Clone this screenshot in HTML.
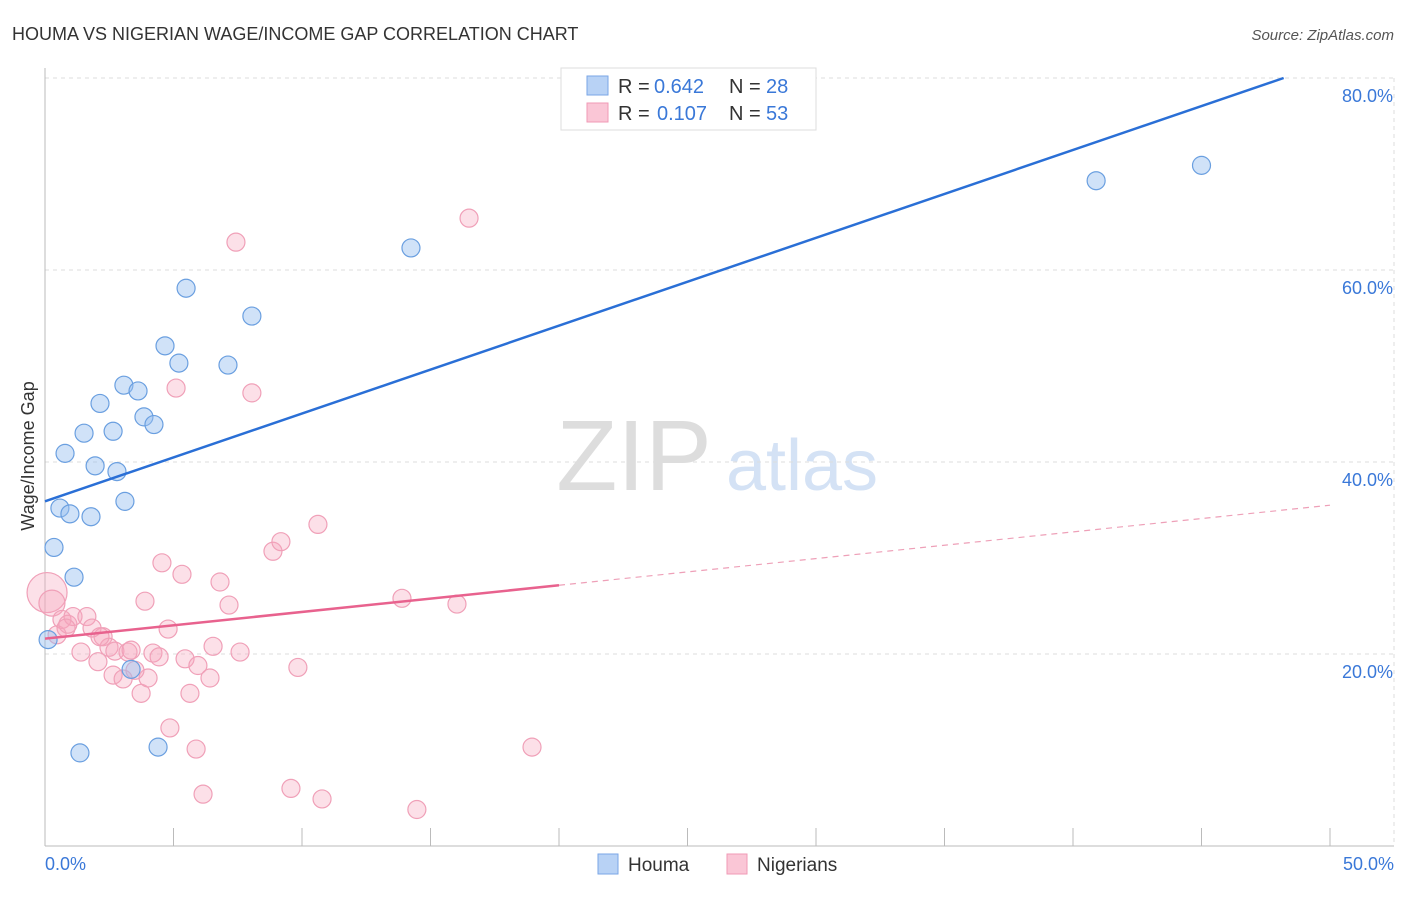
<!DOCTYPE html>
<html><head><meta charset="utf-8"><style>
body{margin:0;background:#fff;font-family:"Liberation Sans",sans-serif;}
svg text{font-family:"Liberation Sans",sans-serif;}
</style></head><body>
<svg id="chart" width="1406" height="892" xmlns="http://www.w3.org/2000/svg">
<text x="12" y="40" font-size="18" fill="#333">HOUMA VS NIGERIAN WAGE/INCOME GAP CORRELATION CHART</text>
<text x="1394" y="40" font-size="15" fill="#555" font-style="italic" text-anchor="end">Source: ZipAtlas.com</text>
<text x="634" y="490" font-size="100" fill="#ddd" font-family="Liberation Serif" text-anchor="middle">ZIP</text>
<text x="802" y="490" font-size="72" fill="#d4e2f5" text-anchor="middle">atlas</text>
<text transform="translate(34,456) rotate(-90)" font-size="18" fill="#333" text-anchor="middle">Wage/Income Gap</text>
<g id="grid"></g><g id="marks"></g>
<g>
<rect x="561" y="68" width="255" height="62" fill="#fff" stroke="#ddd"/>
<rect x="587" y="76" width="21" height="19" fill="#b8d2f5" stroke="#7aa6e6"/>
<rect x="587" y="103" width="21" height="19" fill="#fac6d6" stroke="#f09ab6"/>
<text x="618" y="93" font-size="20" fill="#333">R =</text>
<text x="654" y="93" font-size="20" fill="#3a78d8">0.642</text>
<text x="729" y="93" font-size="20" fill="#333">N =</text>
<text x="766" y="93" font-size="20" fill="#3a78d8">28</text>
<text x="618" y="120" font-size="20" fill="#333">R =</text>
<text x="657" y="120" font-size="20" fill="#3a78d8">0.107</text>
<text x="729" y="120" font-size="20" fill="#333">N =</text>
<text x="766" y="120" font-size="20" fill="#3a78d8">53</text>
</g>
<g>
<rect x="598" y="854" width="20" height="20" fill="#b8d2f5" stroke="#7aa6e6"/>
<text x="628" y="871" font-size="19" fill="#333">Houma</text>
<rect x="727" y="854" width="20" height="20" fill="#fac6d6" stroke="#f09ab6"/>
<text x="757" y="871" font-size="19" fill="#333">Nigerians</text>
</g>
</svg>
<script>
const yTicks=[20,40,60,80];
const yTickLabels=["20.0%","40.0%","60.0%","80.0%"];
const xTicks=[0,5,10,15,20,25,30,35,40,45,50];
const houmaX=[0.12,0.35,0.58,0.97,0.78,1.13,1.52,1.79,1.95,2.14,2.65,2.80,3.07,3.11,3.62,3.85,4.24,4.67,5.21,5.49,7.12,8.05,14.24,3.35,1.36,4.40,40.9,45.0];
const houmaY=[21.5,31.1,35.2,34.6,40.9,28.0,43.0,34.3,39.6,46.1,43.2,39.0,48.0,35.9,47.4,44.7,43.9,52.1,50.3,58.1,50.1,55.2,62.3,18.4,9.7,10.3,69.3,70.9];
const nigX=[0.08,0.27,0.47,0.66,0.89,1.09,1.63,1.83,2.26,2.49,2.72,3.23,3.35,1.40,2.06,2.65,3.04,3.74,4.01,3.50,4.20,4.44,4.86,5.45,5.64,5.95,6.42,5.88,6.15,6.54,7.59,7.16,6.81,8.87,9.18,10.62,9.84,9.57,10.78,14.47,13.89,16.03,18.95,7.43,16.50,8.05,5.10,4.55,5.33,3.89,4.79,0.82,2.14];
const nigY=[26.4,25.3,22.0,23.6,23.1,23.9,23.9,22.7,21.8,20.7,20.3,20.2,20.4,20.2,19.2,17.8,17.4,15.9,17.5,18.3,20.1,19.7,12.3,19.5,15.9,18.8,17.5,10.1,5.4,20.8,20.2,25.1,27.5,30.7,31.7,33.5,18.6,6.0,4.9,3.8,25.8,25.2,10.3,62.9,65.4,47.2,47.7,29.5,28.3,25.5,22.6,22.7,21.8];
const houmaLine=[35.9,0.915];
const nigLine=[21.6,0.278];
const NS="http://www.w3.org/2000/svg";
const xs=v=>45+v*25.7, ys=v=>846-v*9.6;
function mk(t,a,p){const e=document.createElementNS(NS,t);for(const k in a)e.setAttribute(k,a[k]);p.appendChild(e);return e;}
const grid=document.getElementById('grid'),marks=document.getElementById('marks');
yTicks.forEach((t,i)=>{
 const l=mk('line',{x1:45,x2:1394,y1:ys(t),y2:ys(t),stroke:'#ddd','stroke-dasharray':'4,4'},grid);
 
 
 const tx=mk('text',{x:1393,y:ys(t)+24,'font-size':18,fill:'#3a78d8','text-anchor':'end'},grid);
 tx.textContent=yTickLabels[i];
 
 
});
mk('line',{x1:1394,x2:1394,y1:ys(80),y2:846,stroke:'#ddd','stroke-dasharray':'4,4'},grid);
const ax=mk('line',{x1:45,x2:1394,y1:846,y2:846,stroke:'#bbb'},grid);


const ay=mk('line',{x1:45,x2:45,y1:68,y2:846,stroke:'#bbb'},grid);


xTicks.forEach(t=>{const l=mk('line',{x1:xs(t),x2:xs(t),y1:828,y2:846,stroke:'#bbb'},grid);
 
 });
const x0=mk('text',{x:45,y:870,'font-size':18,fill:'#3a78d8'},grid);x0.textContent='0.0%';


const x1=mk('text',{x:1394,y:870,'font-size':18,fill:'#3a78d8','text-anchor':'end'},grid);x1.textContent='50.0%';


nigX.forEach((x,i)=>{const r=i==0?20:(i==1?13:9);
 const c=mk('circle',{cx:xs(x),cy:ys(nigY[i]),r:r,fill:'rgba(245,165,190,0.35)',stroke:'#f0a0b8','stroke-width':1.2},marks);
 
 });
houmaX.forEach((x,i)=>{
 const c=mk('circle',{cx:xs(x),cy:ys(houmaY[i]),r:9,fill:'rgba(150,190,240,0.45)',stroke:'#6a9fe0','stroke-width':1.2},marks);
 
 });
const hx2=(80-houmaLine[0])/houmaLine[1];
const hl=mk('line',{x1:xs(0),y1:ys(houmaLine[0]),x2:xs(hx2),y2:ys(80),stroke:'#2a6fd6','stroke-width':2.5},marks);


const nl=mk('line',{x1:xs(0),y1:ys(nigLine[0]),x2:xs(20),y2:ys(nigLine[0]+20*nigLine[1]),stroke:'#e8628e','stroke-width':2.5},marks);


const nd=mk('line',{x1:xs(20),y1:ys(nigLine[0]+20*nigLine[1]),x2:xs(50),y2:ys(nigLine[0]+50*nigLine[1]),stroke:'#eea0b8','stroke-width':1.2,'stroke-dasharray':'6,5'},marks);


</script>
</body></html>
